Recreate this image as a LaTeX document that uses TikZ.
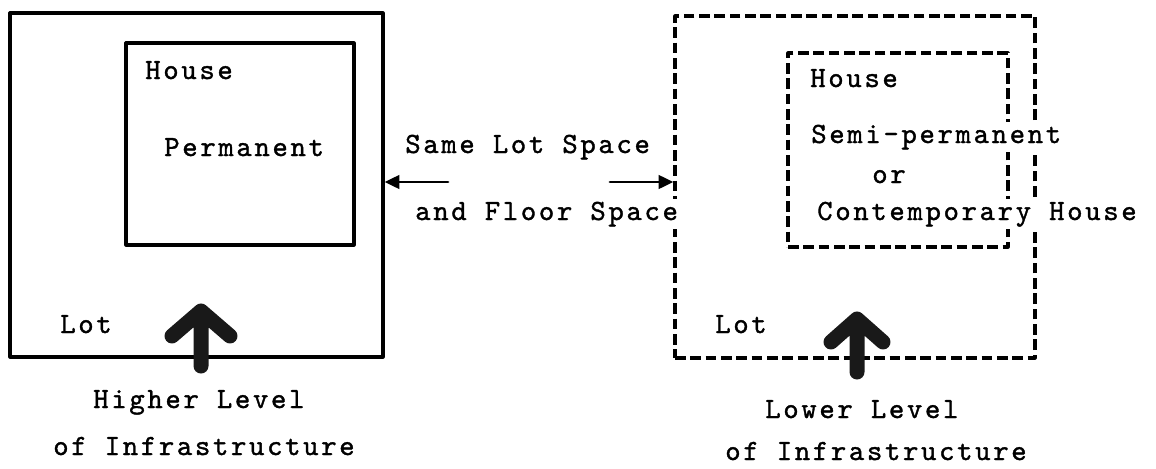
\documentclass[tikz,border=0pt]{standalone}
\usepackage{fontspec}
\newfontfamily\typefont{lmmono10-regular.otf}[LetterSpace=9, FakeBold=1.2]
\usetikzlibrary{arrows.meta,fit}

\begin{document}
\begin{tikzpicture}[
  x=0.75pt, y=-0.75pt,
  line cap=round, line join=round,
  >={Triangle[length=11pt,width=10pt]},
  lotbox/.style={draw, line width=2.4pt, inner sep=0pt},
  dashbox/.style={lotbox, dash pattern=on 8pt off 3.5pt, line cap=butt},
  txt/.style={font=\typefont\fontsize{22pt}{25pt}\selectfont, anchor=base west,
    inner xsep=0pt, inner ysep=2pt, fill=white},
  spacearrow/.style={->, line width=2.2pt},
  bigarrow/.style={line width=11.25pt, black!90}
]
\useasboundingbox (0,0) rectangle (1156,468);

% permanent house on its lot
\node[lotbox, fit={(10,13) (383,357)}] (lotA) {};
\node[lotbox, fit={(126,43) (354,245)}] (houseA) {};

% semi-permanent house on its lot
\node[dashbox, fit={(675,16) (1035,358)}] (lotB) {};
\node[dashbox, fit={(788,53) (1008,247)}] (houseB) {};

% labels
\node[txt] (hA) at (145,79) {House};
\node[txt] (permA) at (164,156) {Permanent};
\node[txt] (ltA) at (60,333) {Lot};
\node[txt] (hB) at (810,87) {House};
\node[txt] (semiB) at (811,143) {Semi-permanent};
\node[txt] (orB) at (872,183) {or};
\node[txt] (contB) at (817,220) {Contemporary House};
\node[txt] (ltB) at (715,333) {Lot};
\node[txt] (same) at (405,153) {Same Lot Space};
\node[txt] (floor) at (415,220) {and Floor Space};
\node[txt] (highA) at (93,408) {Higher Level};
\node[txt] (infA) at (53,455) {of Infrastructure};
\node[txt] (lowB) at (765,418) {Lower Level};
\node[txt] (infB) at (725,460) {of Infrastructure};

% same space arrows
\coordinate (srcA) at (448,182);
\coordinate (srcB) at (610,182);
\draw[spacearrow] (srcA) -- (srcA -| lotA.east);
\draw[spacearrow] (srcB) -- (srcB -| lotB.west);

% infrastructure arrows
\draw[bigarrow] (172,336) -- (201,311) -- (230,336) (201,311) -- (201,366);
\draw[bigarrow] (831,342) -- (857,319) -- (883,342) (857,319) -- (857,372);
\end{tikzpicture}
\end{document}
